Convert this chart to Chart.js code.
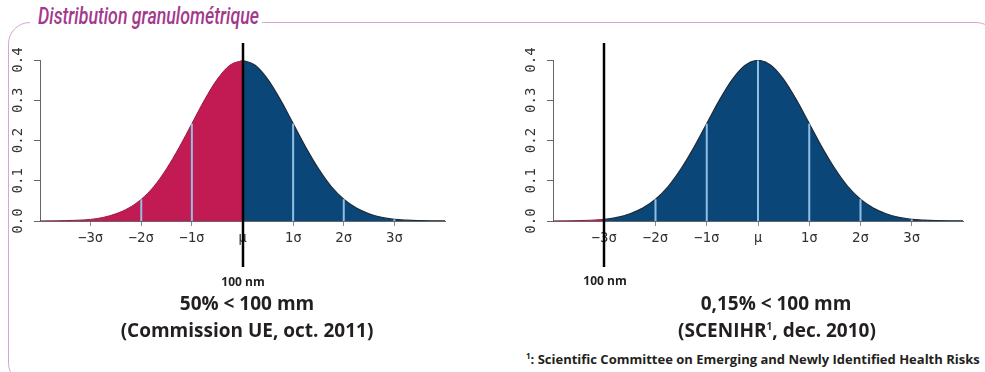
<!DOCTYPE html>
<html>
<head>
<meta charset="utf-8">
<script src="https://cdn.jsdelivr.net/npm/chart.js@4.4.1/dist/chart.umd.min.js"></script>
<style>
  body { margin: 0; width: 985px; height: 372px; overflow: hidden; background: #fff; position: relative; font-family: "Open Sans", sans-serif; }
  .frame { position: absolute; left: 8px; top: 22px; width: 990px; height: 363px; border: 1.5px solid #dba5d0; border-radius: 22px; box-sizing: border-box; }
  .title { position: absolute; left: 30px; top: 4px; width: 232px; height: 30px; background: #fff; }
  .title span { position: absolute; left: 8px; top: -2px; color: #a3398c; font: italic 500 24px "Roboto", sans-serif; white-space: nowrap; transform: scaleX(0.74); transform-origin: left center; }
  canvas { position: absolute; }
  .txt { position: absolute; font-weight: bold; color: #231f20; white-space: nowrap; transform: translate(-50%, -50%); }
  .big { font-size: 19px; }
  .small { font-size: 12px; }
  .note { position: absolute; left: 526px; top: 350px; font-size: 13px; font-weight: bold; color: #231f20; white-space: nowrap; }
</style>
</head>
<body>
<div class="frame"></div>
<div class="title"><span>Distribution granulométrique</span></div>
<canvas id="c1" width="470" height="245" style="left:0px;top:30px"></canvas>
<canvas id="c2" width="470" height="245" style="left:513px;top:30px"></canvas>
<div class="txt small" style="left:243px;top:281px">100 nm</div>
<div class="txt big" style="left:247px;top:303px">50% &lt; 100 mm</div>
<div class="txt big" style="left:247px;top:330px">(Commission UE, oct. 2011)</div>
<div class="txt small" style="left:605px;top:280px">100 nm</div>
<div class="txt big" style="left:776px;top:303px">0,15% &lt; 100 mm</div>
<div class="txt big" style="left:777px;top:330px">(SCENIHR<sup style="font-size:10px">1</sup>, dec. 2010)</div>
<div class="note"><sup style="font-size:8px">1</sup>: Scientific Committee on Emerging and Newly Identified Health Risks</div>
<script>
// positions along x, in sigma units
const xs = [-4, -3.75, -3.5, -3.25, -3, -2.75, -2.5, -2.25, -2, -1.75, -1.5, -1.25, -1, -0.75, -0.5, -0.25,
  0, 0.25, 0.5, 0.75, 1, 1.25, 1.5, 1.75, 2, 2.25, 2.5, 2.75, 3, 3.25, 3.5, 3.75, 4];
// density
const density = [0.0001, 0.0004, 0.001, 0.002, 0.004, 0.009, 0.018, 0.032, 0.054, 0.086, 0.130, 0.183, 0.242, 0.301, 0.352, 0.387,
  0.399, 0.387, 0.352, 0.301, 0.242, 0.183, 0.130, 0.086, 0.054, 0.032, 0.018, 0.009, 0.004, 0.002, 0.001, 0.0004, 0.0001];

const tickVals = [-3, -2, -1, 0, 1, 2, 3];
const tickLabels = ["\u22123\u03c3", "\u22122\u03c3", "\u22121\u03c3", "\u03bc", "1\u03c3", "2\u03c3", "3\u03c3"];
const yTicks = [0, 0.1, 0.2, 0.3, 0.4];

// where the 100 nm cut falls, and which sigma lines are drawn
const cut1 = 0;
const cut2 = -3;
const lines1 = [-2, -1, 1, 2, 3];
const lines2 = [-2, -1, 0, 1, 2, 3];

const PINK = "#c21a52";
const BLUE = "#0b4678";
const LIGHT = "#8fc0e4";

function pts(filter) {
  const out = [];
  xs.forEach(function (x, i) {
    if (filter(x)) out.push({ x: x, y: density[i] });
  });
  return out;
}

const markerPlugin = {
  id: "marker",
  afterDraw(chart, args, opts) {
    const c = chart.ctx;
    const px = Math.round(chart.scales.x.getPixelForValue(opts.value));
    c.save();
    c.strokeStyle = "#000";
    c.lineWidth = 2.5;
    c.beginPath();
    c.moveTo(px, 13);
    c.lineTo(px, 237);
    c.stroke();
    c.restore();
  }
};

function makeChart(id, cut, lines, rightPad) {
  const datasets = [
    {
      data: pts((x) => x <= cut),
      borderColor: "#9a1a45",
      borderWidth: 1,
      backgroundColor: PINK,
      fill: "origin",
      order: 2,
      cubicInterpolationMode: "monotone"
    },
    {
      data: pts((x) => x >= cut),
      borderColor: "#1f2d3d",
      borderWidth: 1.2,
      backgroundColor: BLUE,
      fill: "origin",
      order: 1,
      cubicInterpolationMode: "monotone"
    }
  ];
  lines.forEach(function (v) {
    datasets.push({
      data: [{ x: v, y: 0 }, { x: v, y: density[xs.indexOf(v)] }],
      borderColor: LIGHT,
      borderWidth: 2,
      fill: false,
      order: 0
    });
  });

  return new Chart(document.getElementById(id), {
    type: "line",
    data: { datasets: datasets },
    plugins: [markerPlugin],
    options: {
      responsive: false,
      animation: false,
      layout: { padding: { top: 30, right: rightPad, left: 0, bottom: 0 } },
      elements: { point: { radius: 0 } },
      plugins: {
        legend: { display: false },
        tooltip: { enabled: false },
        marker: { value: cut }
      },
      scales: {
        x: {
          type: "linear",
          min: -4,
          max: 4,
          afterBuildTicks: (s) => { s.ticks = tickVals.map((v) => ({ value: v })); },
          afterFit: (s) => { s.height = 54; },
          ticks: {
            callback: (v) => tickLabels[tickVals.indexOf(v)],
            font: { family: "DejaVu Sans Mono", size: 14 },
            color: "#333",
            padding: 4,
            maxRotation: 0
          },
          grid: { drawOnChartArea: false, tickLength: 5, color: "#8a8a8a" },
          border: { display: true, color: "#666", width: 1 }
        },
        y: {
          min: 0,
          max: 0.4,
          afterBuildTicks: (s) => { s.ticks = yTicks.map((v) => ({ value: v })); },
          afterFit: (s) => { s.width = 40; },
          ticks: {
            callback: (v) => v.toFixed(1),
            font: { family: "DejaVu Sans Mono", size: 14 },
            color: "#333",
            minRotation: 90,
            maxRotation: 90,
            crossAlign: "center",
            padding: 3
          },
          grid: { drawOnChartArea: false, tickLength: 6, color: "#666" },
          border: { display: true, color: "#666", width: 1 }
        }
      }
    }
  });
}

makeChart("c1", cut1, lines1, 25);
makeChart("c2", cut2, lines2, 20);
</script>
</body>
</html>
